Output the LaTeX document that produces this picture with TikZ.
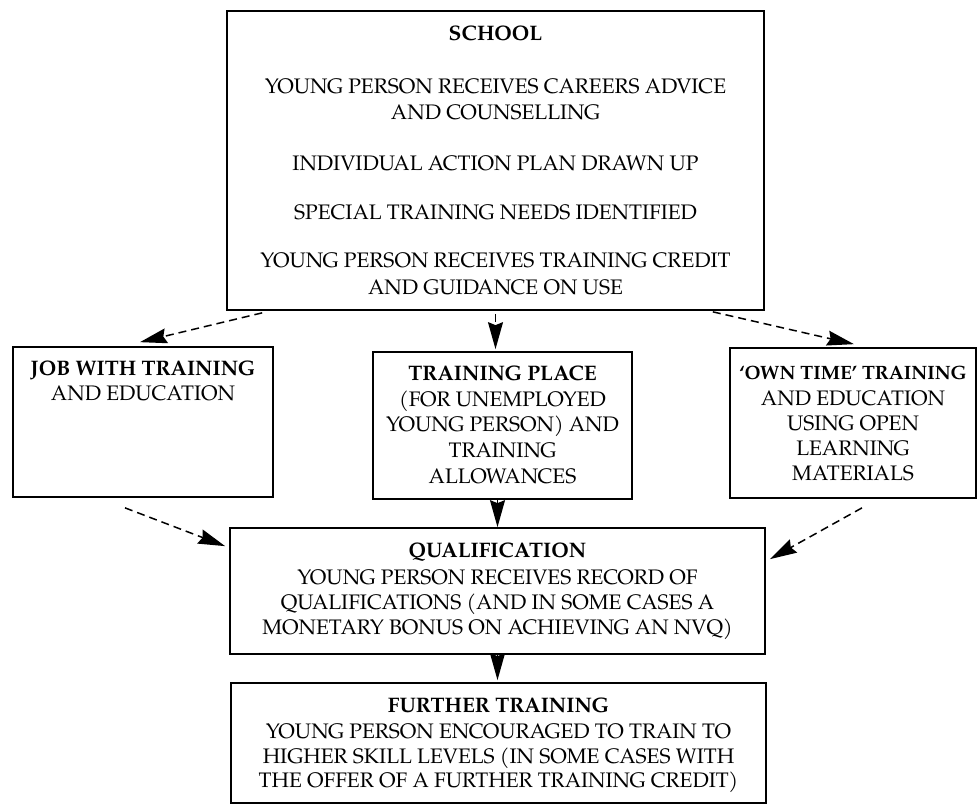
\documentclass[tikz,border=0pt]{standalone}
\usepackage{fontspec}
\setmainfont{TeX Gyre Pagella}
\usetikzlibrary{arrows.meta}
\begin{document}
\begin{tikzpicture}[x=1pt,y=-1pt,
  box/.style={draw, line width=1.7pt, inner sep=0pt},
  ln/.style={inner sep=0pt, text height=14.5pt, text depth=0pt, font=\fontsize{21}{25}\selectfont},
  hd/.style={ln, font=\fontsize{21}{25}\selectfont\bfseries},
  tipstyle/.style={-{Stealth[length=27pt,width=15pt,inset=3pt]}},
  dasharrow/.style={line width=1.5pt, dash pattern=on 8pt off 5pt, tipstyle},
  solidarrow/.style={line width=1.5pt, tipstyle}
]
\useasboundingbox (0,0) rectangle (979,806);

% boxes
\node[box, minimum width=537pt, minimum height=299pt] (school) at (495.5,160.5) {};
\node[box, minimum width=260pt, minimum height=150pt] (job) at (143,422) {};
\node[box, minimum width=259pt, minimum height=147pt] (place) at (502.5,425.5) {};
\node[box, minimum width=246pt, minimum height=150pt] (own) at (853,423) {};
\node[box, minimum width=535pt, minimum height=126pt] (qual) at (497.5,591) {};
\node[box, minimum width=535pt, minimum height=120pt] (further) at (498.5,743) {};

% school text
\node[hd] (s1) at (495.5,33) {SCHOOL};
\node[ln] (s2) at (495.5,86) {YOUNG PERSON RECEIVES CAREERS ADVICE};
\node[ln] (s3) at (495.5,112) {AND COUNSELLING};
\node[ln] (s4) at (495.5,163) {INDIVIDUAL ACTION PLAN DRAWN UP};
\node[ln] (s5) at (495.5,212) {SPECIAL TRAINING NEEDS IDENTIFIED};
\node[ln] (s6) at (495.5,260) {YOUNG PERSON RECEIVES TRAINING CREDIT};
\node[ln] (s7) at (495.5,287) {AND GUIDANCE ON USE};

% job text
\node[hd] (j1) at (143,368) {JOB WITH TRAINING};
\node[ln] (j2) at (143,393) {AND EDUCATION};

% training place text
\node[hd] (p1) at (502.5,373) {TRAINING PLACE};
\node[ln] (p2) at (502.5,399) {(FOR UNEMPLOYED};
\node[ln] (p3) at (502.5,424) {YOUNG PERSON) AND};
\node[ln] (p4) at (502.5,450) {TRAINING};
\node[ln] (p5) at (502.5,476) {ALLOWANCES};

% own time text
\node[hd, font=\fontsize{19.3}{25}\selectfont\bfseries, text height=13.4pt] (o1) at (853,373) {‘OWN TIME’ TRAINING};
\node[ln] (o2) at (853,398) {AND EDUCATION};
\node[ln] (o3) at (853,423) {USING OPEN};
\node[ln] (o4) at (853,448) {LEARNING};
\node[ln] (o5) at (853,473) {MATERIALS};

% qualification text
\node[hd] (q1) at (497.5,550) {QUALIFICATION};
\node[ln] (q2) at (497.5,577) {YOUNG PERSON RECEIVES RECORD OF};
\node[ln] (q3) at (497.5,602) {QUALIFICATIONS (AND IN SOME CASES A};
\node[ln] (q4) at (497.5,627) {MONETARY BONUS ON ACHIEVING AN NVQ)};

% further training text
\node[hd] (f1) at (498.5,705) {FURTHER TRAINING};
\node[ln] (f2) at (498.5,731) {YOUNG PERSON ENCOURAGED TO TRAIN TO};
\node[ln] (f3) at (498.5,756) {HIGHER SKILL LEVELS (IN SOME CASES WITH};
\node[ln] (f4) at (498.5,780) {THE OFFER OF A FURTHER TRAINING CREDIT)};

% connectors
\draw[dasharrow] ([xshift=36pt,yshift=-2pt]school.south west) -- ([xshift=-3pt,yshift=4pt]job.north);
\draw[dasharrow] ([yshift=-3pt]school.south) -- ([yshift=2pt]school.south |- place.north);
\draw[dasharrow] ([xshift=-52pt,yshift=-1pt]school.south east) -- ([xshift=1pt,yshift=3pt]own.north);
\draw[solidarrow] (qual.north |- place.south) -- (qual.north);
\draw[solidarrow] (qual.south) -- ([yshift=2pt]qual.south |- further.north);
\draw[dasharrow] ([xshift=-18pt,yshift=-10pt]job.south) -- ([xshift=-4pt,yshift=-19pt]qual.north west);
\draw[dasharrow] ([xshift=9pt,yshift=-9pt]own.south) -- ([xshift=4pt,yshift=-32pt]qual.north east);
\end{tikzpicture}
\end{document}
